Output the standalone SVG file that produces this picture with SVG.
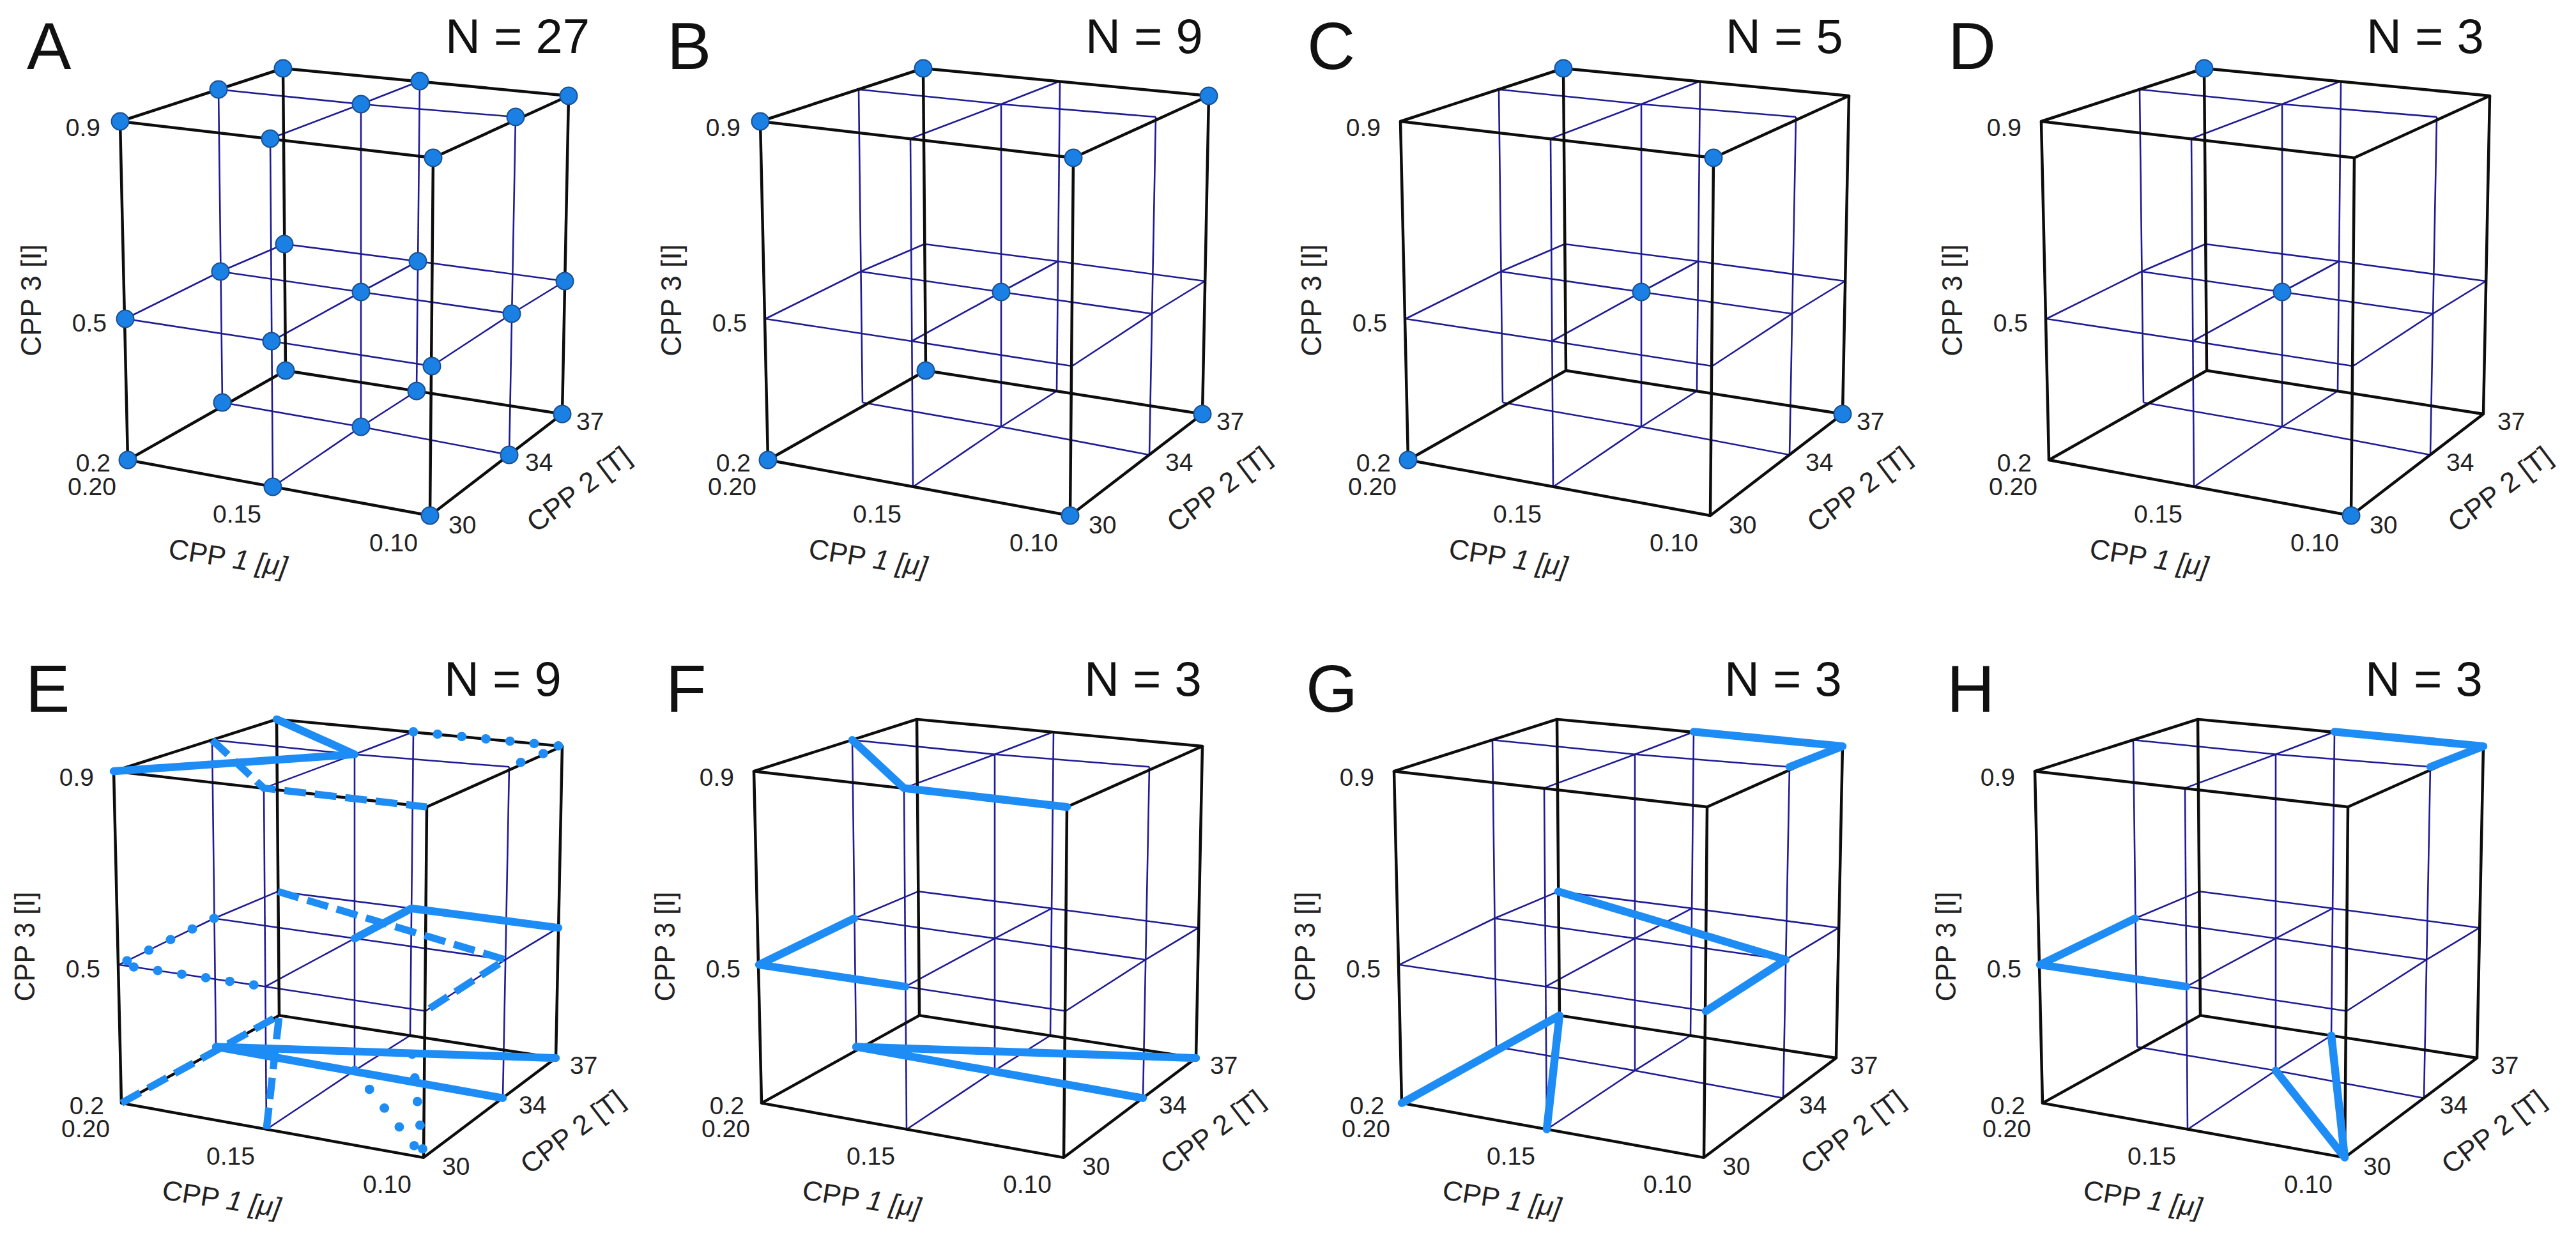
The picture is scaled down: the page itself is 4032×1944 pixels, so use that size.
<svg xmlns="http://www.w3.org/2000/svg" xmlns:xlink="http://www.w3.org/1999/xlink" width="4032" height="1944" viewBox="0 0 4032 1944">
<style>
.bl{fill:none;stroke:#1f1b94;stroke-width:2.6}
.bk{fill:none;stroke:#0d0d0d;stroke-width:4.5;stroke-linejoin:round}
.dot{fill:#1b80e4;stroke:#1a4f92;stroke-width:2}
.tk{font-family:"Liberation Sans",Arial,sans-serif;font-size:39px;fill:#222}
.ax{font-size:44px}
.lab{font-family:"Liberation Sans",Arial,sans-serif;font-size:104px;fill:#111}
.n{font-family:"Liberation Sans",Arial,sans-serif;font-size:76px;fill:#111}
.ts{fill:none;stroke:#1e8cf5;stroke-width:12.5;stroke-linecap:round;stroke-linejoin:round}
.td{fill:none;stroke:#1e8cf5;stroke-width:11.5;stroke-dasharray:34 14}
.tp{fill:none;stroke:#1e8cf5;stroke-width:15;stroke-dasharray:0 38;stroke-linecap:round;stroke-linejoin:round}
</style>
<defs>
<g id="frame">
<g class="bl">
<polyline points="423,217 427,762"/>
<polyline points="342,140 348,630"/>
<polyline points="565,163 565,668"/>
<polyline points="807,183 797,712"/>
<polyline points="657,127 652,612"/>
<polyline points="342,140 565,163 807,183"/>
<polyline points="423,217 565,163 657,127"/>
<polyline points="348,630 565,668 797,712"/>
<polyline points="427,762 565,668 652,612"/>
<polyline points="196,499 425,534 676,573"/>
<polyline points="345,425 565,457 801,491"/>
<polyline points="445,382 654,409 884,440"/>
<polyline points="196,499 345,425 445,382"/>
<polyline points="425,534 565,457 654,409"/>
<polyline points="676,573 801,491 884,440"/>
</g>
<g class="bk">
<polygon points="188,190 678,247 890,150 443,107"/>
<polygon points="200,720 673,807 880,648 447,580"/>
<line x1="188" y1="190" x2="200" y2="720"/>
<line x1="678" y1="247" x2="673" y2="807"/>
<line x1="890" y1="150" x2="880" y2="648"/>
<line x1="443" y1="107" x2="447" y2="580"/>
</g>
</g>
</defs>
<rect width="4032" height="1944" fill="#fff"/>

<g id="panel-A">
<text class="lab" x="42" y="108">A</text>
<text class="n" x="697" y="83">N = 27</text>
<g transform="translate(0,0)">
<use href="#frame"/>
<g class="dot">
<circle cx="188" cy="190" r="13.5"/><circle cx="423" cy="217" r="13.5"/><circle cx="678" cy="247" r="13.5"/>
<circle cx="342" cy="140" r="13.5"/><circle cx="565" cy="163" r="13.5"/><circle cx="807" cy="183" r="13.5"/>
<circle cx="443" cy="107" r="13.5"/><circle cx="657" cy="127" r="13.5"/><circle cx="890" cy="150" r="13.5"/>
<circle cx="196" cy="499" r="13.5"/><circle cx="425" cy="534" r="13.5"/><circle cx="676" cy="573" r="13.5"/>
<circle cx="345" cy="425" r="13.5"/><circle cx="565" cy="457" r="13.5"/><circle cx="801" cy="491" r="13.5"/>
<circle cx="445" cy="382" r="13.5"/><circle cx="654" cy="409" r="13.5"/><circle cx="884" cy="440" r="13.5"/>
<circle cx="200" cy="720" r="13.5"/><circle cx="427" cy="762" r="13.5"/><circle cx="673" cy="807" r="13.5"/>
<circle cx="348" cy="630" r="13.5"/><circle cx="565" cy="668" r="13.5"/><circle cx="797" cy="712" r="13.5"/>
<circle cx="447" cy="580" r="13.5"/><circle cx="652" cy="612" r="13.5"/><circle cx="880" cy="648" r="13.5"/>
</g>
<g class="tk">
<text x="157" y="213" text-anchor="end">0.9</text>
<text x="167" y="519" text-anchor="end">0.5</text>
<text x="173" y="738" text-anchor="end">0.2</text>
<text x="182" y="775" text-anchor="end">0.20</text>
<text x="333" y="818">0.15</text>
<text x="578" y="863">0.10</text>
<text x="702" y="835">30</text>
<text x="822" y="737">34</text>
<text x="902" y="673">37</text>
<text class="ax" transform="translate(64,470) rotate(-90)" text-anchor="middle">CPP 3 [I]</text>
<text class="ax" transform="translate(262,873) rotate(9)">CPP <tspan font-style="italic">1 [μ]</tspan></text>
<text class="ax" transform="translate(839,835) rotate(-37)">CPP 2 [T]</text>
</g>
</g>
</g>

<g id="panel-B">
<text class="lab" x="1044" y="108">B</text>
<text class="n" x="1699" y="83">N = 9</text>
<g transform="translate(1002,0)">
<use href="#frame"/>
<g class="dot">
<circle cx="188" cy="190" r="13.5"/><circle cx="678" cy="247" r="13.5"/><circle cx="443" cy="107" r="13.5"/><circle cx="890" cy="150" r="13.5"/>
<circle cx="565" cy="457" r="13.5"/>
<circle cx="200" cy="720" r="13.5"/><circle cx="673" cy="807" r="13.5"/><circle cx="447" cy="580" r="13.5"/><circle cx="880" cy="648" r="13.5"/>
</g>
<g class="tk">
<text x="157" y="213" text-anchor="end">0.9</text>
<text x="167" y="519" text-anchor="end">0.5</text>
<text x="173" y="738" text-anchor="end">0.2</text>
<text x="182" y="775" text-anchor="end">0.20</text>
<text x="333" y="818">0.15</text>
<text x="578" y="863">0.10</text>
<text x="702" y="835">30</text>
<text x="822" y="737">34</text>
<text x="902" y="673">37</text>
<text class="ax" transform="translate(64,470) rotate(-90)" text-anchor="middle">CPP 3 [I]</text>
<text class="ax" transform="translate(262,873) rotate(9)">CPP <tspan font-style="italic">1 [μ]</tspan></text>
<text class="ax" transform="translate(839,835) rotate(-37)">CPP 2 [T]</text>
</g>
</g>
</g>

<g id="panel-C">
<text class="lab" x="2046" y="108">C</text>
<text class="n" x="2701" y="83">N = 5</text>
<g transform="translate(2004,0)">
<use href="#frame"/>
<g class="dot">
<circle cx="443" cy="107" r="13.5"/><circle cx="678" cy="247" r="13.5"/>
<circle cx="565" cy="457" r="13.5"/>
<circle cx="200" cy="720" r="13.5"/><circle cx="880" cy="648" r="13.5"/>
</g>
<g class="tk">
<text x="157" y="213" text-anchor="end">0.9</text>
<text x="167" y="519" text-anchor="end">0.5</text>
<text x="173" y="738" text-anchor="end">0.2</text>
<text x="182" y="775" text-anchor="end">0.20</text>
<text x="333" y="818">0.15</text>
<text x="578" y="863">0.10</text>
<text x="702" y="835">30</text>
<text x="822" y="737">34</text>
<text x="902" y="673">37</text>
<text class="ax" transform="translate(64,470) rotate(-90)" text-anchor="middle">CPP 3 [I]</text>
<text class="ax" transform="translate(262,873) rotate(9)">CPP <tspan font-style="italic">1 [μ]</tspan></text>
<text class="ax" transform="translate(839,835) rotate(-37)">CPP 2 [T]</text>
</g>
</g>
</g>

<g id="panel-D">
<text class="lab" x="3049" y="108">D</text>
<text class="n" x="3704" y="83">N = 3</text>
<g transform="translate(3007,0)">
<use href="#frame"/>
<g class="dot">
<circle cx="443" cy="107" r="13.5"/>
<circle cx="565" cy="457" r="13.5"/>
<circle cx="673" cy="807" r="13.5"/>
</g>
<g class="tk">
<text x="157" y="213" text-anchor="end">0.9</text>
<text x="167" y="519" text-anchor="end">0.5</text>
<text x="173" y="738" text-anchor="end">0.2</text>
<text x="182" y="775" text-anchor="end">0.20</text>
<text x="333" y="818">0.15</text>
<text x="578" y="863">0.10</text>
<text x="702" y="835">30</text>
<text x="822" y="737">34</text>
<text x="902" y="673">37</text>
<text class="ax" transform="translate(64,470) rotate(-90)" text-anchor="middle">CPP 3 [I]</text>
<text class="ax" transform="translate(262,873) rotate(9)">CPP <tspan font-style="italic">1 [μ]</tspan></text>
<text class="ax" transform="translate(839,835) rotate(-37)">CPP 2 [T]</text>
</g>
</g>
</g>

<g id="panel-E">
<text class="lab" x="40" y="1114">E</text>
<text class="n" x="695" y="1089">N = 9</text>
<g transform="translate(-10,1021) scale(1,0.98)">
<use href="#frame"/>
<polyline class="ts" points="188,190 565,163 443,107"/>
<polyline class="td" points="342,140 423,217 678,247"/>
<polyline class="tp" points="657,127 890,150 807,183"/>
<polyline class="tp" points="345,425 196,499 425,534"/>
<polyline class="td" points="445,382 801,491 676,573"/>
<polyline class="ts" points="565,457 654,409 884,440"/>
<polyline class="td" points="200,720 447,580 427,762"/>
<polyline class="ts" points="880,648 348,630 797,712"/>
<polyline class="tp" points="565,668 673,807 652,612"/>
<g class="tk">
<text x="157" y="213" text-anchor="end">0.9</text>
<text x="167" y="519" text-anchor="end">0.5</text>
<text x="173" y="738" text-anchor="end">0.2</text>
<text x="182" y="775" text-anchor="end">0.20</text>
<text x="333" y="818">0.15</text>
<text x="578" y="863">0.10</text>
<text x="702" y="835">30</text>
<text x="822" y="737">34</text>
<text x="902" y="673">37</text>
<text class="ax" transform="translate(64,470) rotate(-90)" text-anchor="middle">CPP 3 [I]</text>
<text class="ax" transform="translate(262,873) rotate(9)">CPP <tspan font-style="italic">1 [μ]</tspan></text>
<text class="ax" transform="translate(839,835) rotate(-37)">CPP 2 [T]</text>
</g>
</g>
</g>

<g id="panel-F">
<text class="lab" x="1042" y="1114">F</text>
<text class="n" x="1697" y="1089">N = 3</text>
<g transform="translate(992,1021) scale(1,0.98)">
<use href="#frame"/>
<polyline class="ts" points="342,140 423,217 678,247"/>
<polyline class="ts" points="345,425 196,499 425,534"/>
<polyline class="ts" points="880,648 348,630 797,712"/>
<g class="tk">
<text x="157" y="213" text-anchor="end">0.9</text>
<text x="167" y="519" text-anchor="end">0.5</text>
<text x="173" y="738" text-anchor="end">0.2</text>
<text x="182" y="775" text-anchor="end">0.20</text>
<text x="333" y="818">0.15</text>
<text x="578" y="863">0.10</text>
<text x="702" y="835">30</text>
<text x="822" y="737">34</text>
<text x="902" y="673">37</text>
<text class="ax" transform="translate(64,470) rotate(-90)" text-anchor="middle">CPP 3 [I]</text>
<text class="ax" transform="translate(262,873) rotate(9)">CPP <tspan font-style="italic">1 [μ]</tspan></text>
<text class="ax" transform="translate(839,835) rotate(-37)">CPP 2 [T]</text>
</g>
</g>
</g>

<g id="panel-G">
<text class="lab" x="2044" y="1114">G</text>
<text class="n" x="2699" y="1089">N = 3</text>
<g transform="translate(1994,1021) scale(1,0.98)">
<use href="#frame"/>
<polyline class="ts" points="657,127 890,150 807,183"/>
<polyline class="ts" points="445,382 801,491 676,573"/>
<polyline class="ts" points="200,720 447,580 427,762"/>
<g class="tk">
<text x="157" y="213" text-anchor="end">0.9</text>
<text x="167" y="519" text-anchor="end">0.5</text>
<text x="173" y="738" text-anchor="end">0.2</text>
<text x="182" y="775" text-anchor="end">0.20</text>
<text x="333" y="818">0.15</text>
<text x="578" y="863">0.10</text>
<text x="702" y="835">30</text>
<text x="822" y="737">34</text>
<text x="902" y="673">37</text>
<text class="ax" transform="translate(64,470) rotate(-90)" text-anchor="middle">CPP 3 [I]</text>
<text class="ax" transform="translate(262,873) rotate(9)">CPP <tspan font-style="italic">1 [μ]</tspan></text>
<text class="ax" transform="translate(839,835) rotate(-37)">CPP 2 [T]</text>
</g>
</g>
</g>

<g id="panel-H">
<text class="lab" x="3047" y="1114">H</text>
<text class="n" x="3702" y="1089">N = 3</text>
<g transform="translate(2997,1021) scale(1,0.98)">
<use href="#frame"/>
<polyline class="ts" points="657,127 890,150 807,183"/>
<polyline class="ts" points="345,425 196,499 425,534"/>
<polyline class="ts" points="565,668 673,807 652,612"/>
<g class="tk">
<text x="157" y="213" text-anchor="end">0.9</text>
<text x="167" y="519" text-anchor="end">0.5</text>
<text x="173" y="738" text-anchor="end">0.2</text>
<text x="182" y="775" text-anchor="end">0.20</text>
<text x="333" y="818">0.15</text>
<text x="578" y="863">0.10</text>
<text x="702" y="835">30</text>
<text x="822" y="737">34</text>
<text x="902" y="673">37</text>
<text class="ax" transform="translate(64,470) rotate(-90)" text-anchor="middle">CPP 3 [I]</text>
<text class="ax" transform="translate(262,873) rotate(9)">CPP <tspan font-style="italic">1 [μ]</tspan></text>
<text class="ax" transform="translate(839,835) rotate(-37)">CPP 2 [T]</text>
</g>
</g>
</g>
</svg>
